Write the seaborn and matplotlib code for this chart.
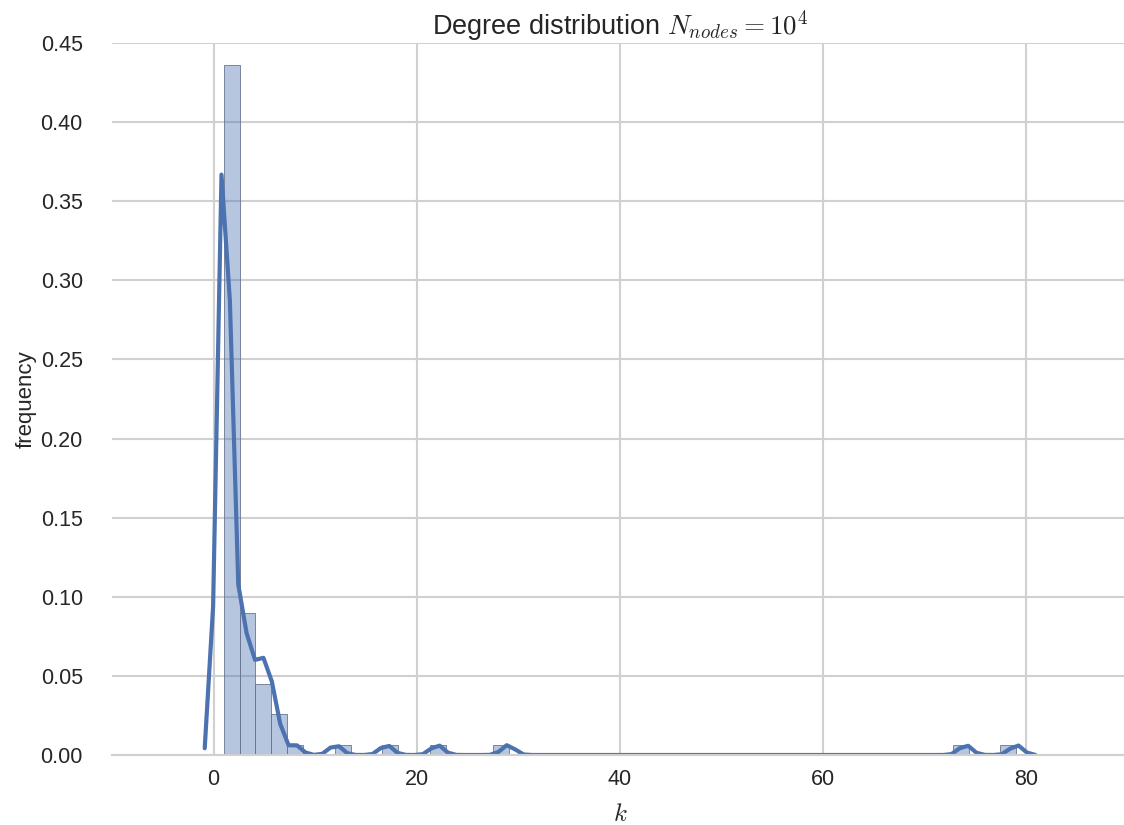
import numpy as np
import matplotlib
matplotlib.use("Agg")
import matplotlib.pyplot as plt
import seaborn as sns

# degree of each node in the sample, stored as value -> how many nodes have it
degree_values = [1, 2, 3, 4, 5, 6, 8, 12, 17, 22, 29, 74, 79]
degree_counts = [60, 8, 9, 5, 7, 4, 1, 1, 1, 1, 1, 1, 1]

x_ticks = [0, 20, 40, 60, 80]
y_ticks = [0.00, 0.05, 0.10, 0.15, 0.20, 0.25, 0.30, 0.35, 0.40, 0.45]

degrees = np.repeat(degree_values, degree_counts)

# old distplot used statsmodels' scott rule: 1.059 * min(std, iqr/1.349) * n^-1/5
n = len(degrees)
sd = degrees.std(ddof=1)
iqr = np.subtract(*np.percentile(degrees, [75, 25]))
bw = 1.059 * min(sd, iqr / 1.349) * n ** -0.2
bw_adjust = bw / (sd * n ** -0.2)

sns.set_theme(style="whitegrid")
plt.rcParams["font.family"] = ["Liberation Sans", "DejaVu Sans"]
plt.rcParams["mathtext.fontset"] = "cm"
plt.rcParams["grid.linewidth"] = 1.5
plt.rcParams["grid.color"] = "#d0d0d0"

blue = "#4C72B0"

fig = plt.figure(figsize=(11.24, 8.25), dpi=100)
ax = fig.add_axes([112 / 1124, 70 / 825, 1016 / 1124, 712 / 825])

sns.histplot(x=degrees, bins=50, stat="density", color=blue, alpha=0.4,
             edgecolor="#6a7590", linewidth=0.6, ax=ax)
sns.kdeplot(x=degrees, bw_adjust=bw_adjust, cut=3, gridsize=100,
            color=blue, linewidth=3, ax=ax)

ax.set_xlim(-10, 90)
ax.set_ylim(0, 0.45)
ax.set_xticks(x_ticks)
ax.set_yticks(y_ticks)
ax.set_yticklabels([f"{v:.2f}" for v in y_ticks])
ax.tick_params(axis="both", labelsize=15.5, colors="#262626", length=0)
ax.tick_params(axis="y", pad=21)
ax.tick_params(axis="x", pad=10)

ax.set_title(r"Degree distribution $N_{nodes} = 10^4$", fontsize=19.5,
             color="#262626", pad=6)
ax.set_xlabel(r"$k$", fontsize=18, color="#262626", labelpad=9)
ax.set_ylabel("frequency", fontsize=16, color="#262626", labelpad=3)

sns.despine(ax=ax, left=True)
ax.spines["bottom"].set_color("#d0d0d0")
ax.spines["bottom"].set_linewidth(1.5)

fig.savefig("out.png", dpi=100)
